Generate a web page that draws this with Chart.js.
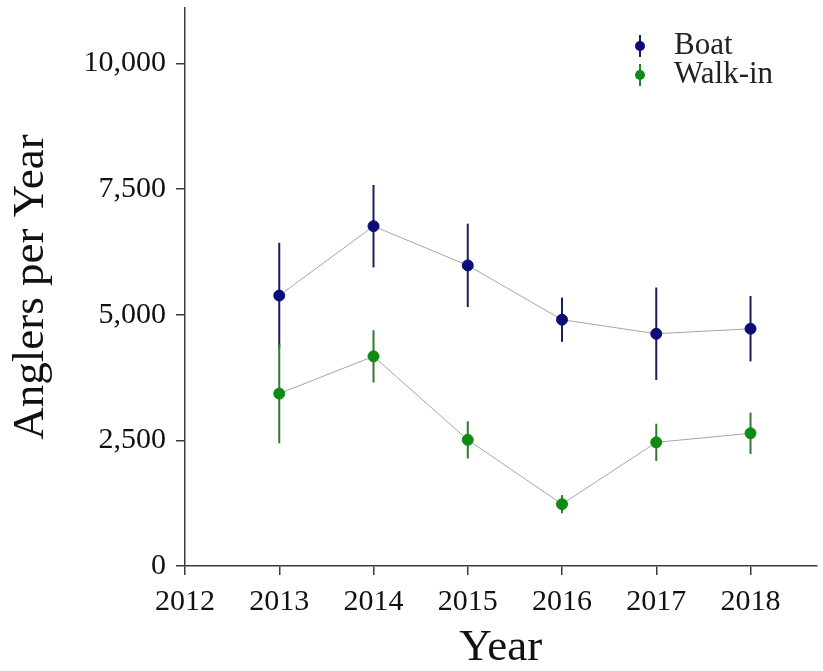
<!DOCTYPE html>
<html>
<head>
<meta charset="utf-8">
<script src="https://cdn.jsdelivr.net/npm/chart.js@4.4.1/dist/chart.umd.min.js"></script>
<style>
  body { margin: 0; background: #fff; }
  canvas { display: block; }
</style>
</head>
<body>
<canvas id="chart" width="823" height="671"></canvas>
<script>
// values
const years = [2013, 2014, 2015, 2016, 2017, 2018];
const boat = [5380, 6760, 5980, 4900, 4620, 4720];
const boatErr = [1050, 820, 830, 440, 920, 650];
const walkIn = [3430, 4170, 2510, 1230, 2460, 2640];
const walkInErr = [990, 520, 370, 180, 370, 410];
const yTicks = [0, 2500, 5000, 7500, 10000];
const xTicks = [2012, 2013, 2014, 2015, 2016, 2017, 2018];

const FONT = "'Liberation Serif', 'Times New Roman', serif";
const AXIS = '#3a3a3a';

function pts(vals) {
  return years.map((yr, i) => ({ x: yr, y: vals[i] }));
}

// error bars + legend, drawn with the chart's own scales
const errorBars = {
  id: 'errorBars',
  beforeDatasetsDraw(chart) {
    const { ctx, scales: { x, y } } = chart;
    chart.data.datasets.forEach(ds => {
      ctx.save();
      ctx.strokeStyle = ds.barColor;
      ctx.lineWidth = 2;
      ds.data.forEach((p, i) => {
        const px = x.getPixelForValue(p.x);
        ctx.beginPath();
        ctx.moveTo(px, y.getPixelForValue(p.y - ds.err[i]));
        ctx.lineTo(px, y.getPixelForValue(p.y + ds.err[i]));
        ctx.stroke();
      });
      ctx.restore();
    });
  },
  afterDraw(chart) {
    const { ctx } = chart;
    chart.data.datasets.forEach((ds, i) => {
      const cx = 640, cy = 46 + 29 * i;
      ctx.save();
      ctx.strokeStyle = ds.barColor;
      ctx.lineWidth = 2;
      ctx.beginPath();
      ctx.moveTo(cx, cy - 11);
      ctx.lineTo(cx, cy + 11);
      ctx.stroke();
      ctx.fillStyle = ds.pointBackgroundColor;
      ctx.beginPath();
      ctx.arc(cx, cy, 5, 0, Math.PI * 2);
      ctx.fill();
      ctx.fillStyle = '#222';
      ctx.font = '31px ' + FONT;
      ctx.textBaseline = 'middle';
      ctx.fillText(ds.label, 674, cy);
      ctx.restore();
    });
  }
};

new Chart(document.getElementById('chart'), {
  type: 'line',
  data: {
    datasets: [
      {
        label: 'Boat',
        data: pts(boat),
        err: boatErr,
        barColor: '#1c1c5c',
        borderColor: '#a6a6a6',
        borderWidth: 1,
        pointBackgroundColor: '#0c0c78',
        pointBorderColor: '#0c0c78',
        pointRadius: 5.5,
        tension: 0
      },
      {
        label: 'Walk-in',
        data: pts(walkIn),
        err: walkInErr,
        barColor: '#2f7a2f',
        borderColor: '#a6a6a6',
        borderWidth: 1,
        pointBackgroundColor: '#0f8a12',
        pointBorderColor: '#0f8a12',
        pointRadius: 5.5,
        tension: 0
      }
    ]
  },
  options: {
    responsive: false,
    animation: false,
    layout: { padding: { top: 8, right: 0, left: 0, bottom: 0 } },
    plugins: { legend: { display: false }, tooltip: { enabled: false } },
    scales: {
      x: {
        type: 'linear',
        min: 2012,
        max: 2018.7,
        afterBuildTicks: s => { s.ticks = xTicks.map(v => ({ value: v })); },
        afterFit: s => { s.height = 105; s.paddingLeft = 0; s.paddingRight = 0; },
        grid: { drawOnChartArea: false, drawTicks: true, tickLength: 9, color: AXIS, lineWidth: 1.5 },
        border: { display: true, color: AXIS, width: 1.5 },
        ticks: { color: '#111', padding: 9, maxRotation: 0, font: { family: FONT, size: 30 }, callback: v => String(v) },
        title: { display: true, text: 'Year', color: '#111', font: { family: FONT, size: 45, lineHeight: 1 }, padding: { top: 0, bottom: 0 } }
      },
      y: {
        min: 0,
        max: 11100,
        afterBuildTicks: s => { s.ticks = yTicks.map(v => ({ value: v })); },
        afterFit: s => { s.width = 185; s.paddingTop = 0; s.paddingBottom = 0; },
        grid: { drawOnChartArea: false, drawTicks: true, tickLength: 9, color: AXIS, lineWidth: 1.5 },
        border: { display: true, color: AXIS, width: 1.5 },
        ticks: { color: '#111', padding: 10, font: { family: FONT, size: 30 }, callback: v => v.toLocaleString('en-US') },
        title: { display: true, text: 'Anglers per Year', color: '#111', font: { family: FONT, size: 45, lineHeight: 1 }, padding: { top: 9, bottom: 0 } }
      }
    }
  },
  plugins: [errorBars]
});
</script>
</body>
</html>
